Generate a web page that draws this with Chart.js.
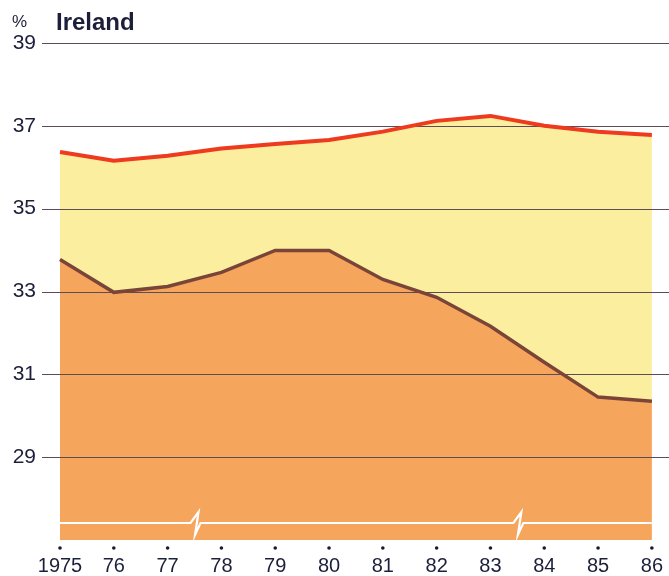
<!DOCTYPE html>
<html>
<head>
<meta charset="utf-8">
<script src="https://cdn.jsdelivr.net/npm/chart.js@4/dist/chart.umd.min.js"></script>
<style>
  body { margin: 0; background: #fff; }
  canvas { display: block; }
</style>
</head>
<body>
<canvas id="chart" width="669" height="576"></canvas>
<script>
// values
const years = ['1975', '76', '77', '78', '79', '80', '81', '82', '83', '84', '85', '86'];
const upperLine = [36.37, 36.16, 36.28, 36.45, 36.56, 36.66, 36.86, 37.12, 37.24, 37.0, 36.86, 36.78];
const lowerLine = [33.77, 32.98, 33.12, 33.46, 33.99, 33.99, 33.29, 32.86, 32.16, 31.29, 30.45, 30.35];
const yTicks = [29, 31, 33, 35, 37, 39];
const breakAfter = ['77', '83']; // axis break marks sit between this year and the next

const FONT = '"Liberation Sans", Arial, sans-serif';

// gridlines between the fills and the lines, running the full width
const gridAndMarks = {
  id: 'gridAndMarks',
  beforeDatasetsDraw(chart) {
    const { ctx, scales: { x, y }, chartArea } = chart;
    ctx.save();
    ctx.strokeStyle = '#5b4c58';
    ctx.lineWidth = 1.2;
    yTicks.forEach(v => {
      const py = Math.round(y.getPixelForValue(v)) + 0.5;
      ctx.beginPath();
      ctx.moveTo(42, py);
      ctx.lineTo(chart.width, py);
      ctx.stroke();
    });
    // white broken-axis line near the bottom
    const by = y.getPixelForValue(27.41);
    ctx.strokeStyle = '#ffffff';
    ctx.lineWidth = 2.2;
    ctx.lineJoin = 'miter';
    ctx.beginPath();
    ctx.moveTo(chartArea.left, by);
    breakAfter.forEach(lab => {
      const i = years.indexOf(lab);
      const mx = (x.getPixelForValue(i) + x.getPixelForValue(i + 1)) / 2;
      ctx.lineTo(mx - 4, by);
      ctx.lineTo(mx + 4, by - 11);
      ctx.lineTo(mx + 0.5, by + 12);
      ctx.lineTo(mx + 6, by);
    });
    ctx.lineTo(chartArea.right, by);
    ctx.stroke();
    ctx.restore();
  },
  afterDraw(chart) {
    const { ctx, scales: { x }, chartArea } = chart;
    ctx.save();
    // dots above the year labels
    ctx.fillStyle = '#1a1a2a';
    years.forEach((_, i) => {
      ctx.beginPath();
      ctx.arc(x.getPixelForValue(i), chartArea.bottom + 8, 1.8, 0, Math.PI * 2);
      ctx.fill();
    });
    ctx.fillStyle = '#1c1f3a';
    ctx.textBaseline = 'alphabetic';
    ctx.font = '17px ' + FONT;
    ctx.textAlign = 'left';
    ctx.fillText('%', 12, 27);
    ctx.font = 'bold 24px ' + FONT;
    ctx.fillText('Ireland', 56, 30);
    ctx.restore();
  }
};

new Chart(document.getElementById('chart'), {
  type: 'line',
  data: {
    labels: years,
    datasets: [
      {
        label: 'lower',
        data: lowerLine,
        borderColor: '#7a4538',
        borderWidth: 3.5,
        backgroundColor: '#f6a55c',
        fill: 'start',
        pointRadius: 0,
        tension: 0
      },
      {
        label: 'upper',
        data: upperLine,
        borderColor: '#ee3a1e',
        borderWidth: 4,
        backgroundColor: '#fbef9f',
        fill: '-1',
        pointRadius: 0,
        tension: 0
      }
    ]
  },
  options: {
    responsive: false,
    animation: false,
    layout: { padding: { top: 43, right: 8, left: 0, bottom: 0 } },
    plugins: {
      legend: { display: false },
      tooltip: { enabled: false },
      filler: { drawTime: 'beforeDatasetsDraw' }
    },
    scales: {
      x: {
        type: 'category',
        offset: false,
        grid: { display: false },
        border: { display: false },
        afterFit: s => { s.height = 36; },
        ticks: {
          padding: 6,
          maxRotation: 0,
          autoSkip: false,
          color: '#1c1f3a',
          font: { family: FONT, size: 20 }
        }
      },
      y: {
        min: 27,
        max: 39,
        grid: { display: false },
        border: { display: false },
        afterFit: s => { s.width = 60; },
        afterBuildTicks: s => { s.ticks = yTicks.map(v => ({ value: v })); },
        ticks: {
          padding: 16,
          color: '#1c1f3a',
          font: { family: FONT, size: 21 }
        }
      }
    }
  },
  plugins: [gridAndMarks]
});
</script>
</body>
</html>
